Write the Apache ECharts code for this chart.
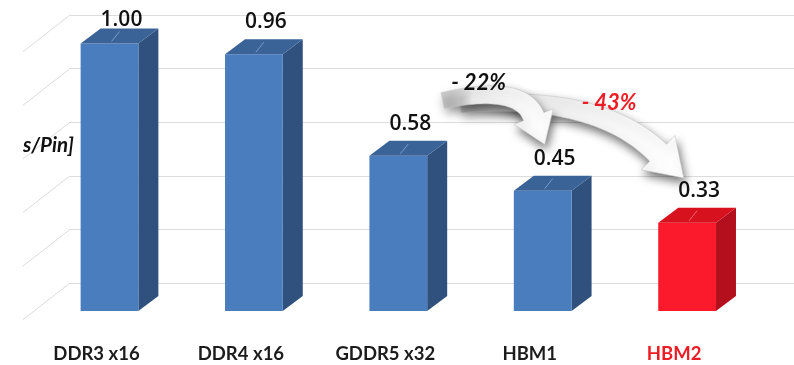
<!DOCTYPE html>
<html>
<head>
<meta charset="utf-8">
<script src="https://cdn.jsdelivr.net/npm/echarts@6/dist/echarts.min.js"></script>
<style>
  html, body { margin: 0; padding: 0; background: #ffffff; }
  #chart { width: 794px; height: 365px; }
</style>
</head>
<body>
<div id="chart"></div>
<script>
// Memory interfaces and their normalized values
const categories = ['DDR3 x16', 'DDR4 x16', 'GDDR5 x32', 'HBM1', 'HBM2'];
const values = [1.00, 0.96, 0.58, 0.45, 0.33];
const valueLabels = ['1.00', '0.96', '0.58', '0.45', '0.33'];
// Back-wall gridline values
const wallTicks = [0, 0.2, 0.4, 0.6, 0.8, 1.0];
// Reduction callouts: [target index, text]
const reductions = [[3, '- 22%'], [4, '- 43%']];
// Unit line of the axis title (the part inside the frame)
const unitText = 's/Pin]';

const FONT = 'Lato, "Open Sans", sans-serif';
const NUM_FONT = '"Open Sans", Lato, sans-serif';
const FRAME_LEFT = 23;             // left edge of the visible frame
const DX = 20, DY = -15;           // 3D depth offset of each column
const BLUE = { front: '#4a7dbd', side: '#30517d', top: '#3a6397', hi: 'rgba(170,200,240,0.55)' };
const RED  = { front: '#fb1a2b', side: '#b40f1d', top: '#d8111f', hi: 'rgba(255,170,170,0.55)' };
const barColors = categories.map((c, i) => i === categories.length - 1 ? RED : BLUE);

function renderColumn(params, api) {
  const i = api.value(0), v = api.value(1);
  const top = api.coord([i, v]);
  const base = api.coord([i, 0]);
  const w = api.size([1, 0])[0] * 0.4;
  const x0 = top[0] - w / 2, x1 = top[0] + w / 2;
  const yT = top[1], yB = base[1];
  const c = barColors[i];
  return {
    type: 'group',
    children: [
      { type: 'polygon', shape: { points: [[x1, yT], [x1 + DX, yT + DY], [x1 + DX, yB + DY], [x1, yB]] },
        style: { fill: c.side } },
      { type: 'rect', shape: { x: x0, y: yT, width: w, height: yB - yT },
        style: { fill: c.front } },
      { type: 'polygon', shape: { points: [[x0, yT], [x0 + DX, yT + DY], [x1 + DX, yT + DY], [x1, yT]] },
        style: { fill: c.top } },
      { type: 'line', shape: { x1: top[0] + 2, y1: yT - 2, x2: top[0] + 10, y2: yT + DY + 3 },
        style: { stroke: c.hi, lineWidth: 1 } },
      { type: 'text', z2: 10,
        style: { text: valueLabels[i], x: top[0] + 12, y: Math.max(yT + DY - 17, 20),
                 align: 'center', verticalAlign: 'middle',
                 font: '600 21px ' + NUM_FONT, fill: '#111111' } }
    ]
  };
}

// Receding gridlines on the left side wall, ending at the frame edge
function renderWallLine(params, api) {
  const p = api.coord([0, api.value(0)]);
  const run = p[0] - FRAME_LEFT;
  return {
    type: 'line',
    shape: { x1: p[0], y1: p[1], x2: FRAME_LEFT, y2: p[1] + run * 0.78 },
    style: { stroke: '#dcdcdc', lineWidth: 1 }
  };
}

const chart = echarts.init(document.getElementById('chart'), null, { renderer: 'canvas' });

chart.setOption({
  animation: false,
  backgroundColor: '#ffffff',
  grid: [
    { left: 37.3, right: 34.7, top: 43.5, bottom: 54 },
    { left: 70, right: 0, top: 15, bottom: 82 }
  ],
  xAxis: [
    {
      type: 'category', gridIndex: 0, data: categories,
      axisLine: { show: false }, axisTick: { show: false },
      axisLabel: {
        margin: 34, padding: [0, 26, 0, 0],
        fontFamily: FONT, fontWeight: 'bold', fontSize: 18.5, color: '#1c1c1c',
        formatter: (v) => v === 'HBM2' ? '{r|' + v + '}' : v,
        rich: { r: { color: '#ee1c25', fontFamily: FONT, fontWeight: 'bold', fontSize: 18.5 } }
      }
    },
    { type: 'value', gridIndex: 1, min: 0, max: 1, show: false }
  ],
  yAxis: [
    { type: 'value', gridIndex: 0, min: 0, max: 1, show: false },
    {
      type: 'value', gridIndex: 1, min: 0, max: 1, interval: 0.2,
      axisLine: { show: false }, axisTick: { show: false }, axisLabel: { show: false },
      splitLine: { show: true, lineStyle: { color: '#dcdcdc', width: 1 } }
    }
  ],
  series: [
    {
      type: 'custom', xAxisIndex: 1, yAxisIndex: 1, z: 1,
      data: wallTicks.map(t => [t]),
      renderItem: renderWallLine
    },
    {
      type: 'custom', xAxisIndex: 0, yAxisIndex: 0, z: 3,
      data: values.map((v, i) => [i, v]),
      renderItem: renderColumn
    }
  ]
});

// Curved callout arrow built along a quadratic curve with an arrow head
function arrowPoints(p0, p1, p2, headLen, w0, w1, hw) {
  const left = [], right = [];
  const N = 30;
  for (let k = 0; k <= N; k++) {
    const t = k / N, u = 1 - t;
    const x = u * u * p0[0] + 2 * u * t * p1[0] + t * t * p2[0];
    const y = u * u * p0[1] + 2 * u * t * p1[1] + t * t * p2[1];
    const dx = 2 * u * (p1[0] - p0[0]) + 2 * t * (p2[0] - p1[0]);
    const dy = 2 * u * (p1[1] - p0[1]) + 2 * t * (p2[1] - p1[1]);
    const len = Math.hypot(dx, dy) || 1;
    const nx = -dy / len, ny = dx / len;
    const h = w0 + (w1 - w0) * t;
    left.push([x + nx * h, y + ny * h]);
    right.push([x - nx * h, y - ny * h]);
  }
  const ex = p2[0] - p1[0], ey = p2[1] - p1[1];
  const el = Math.hypot(ex, ey);
  const dx = ex / el, dy = ey / el, nx = -dy, ny = dx;
  const tip = [p2[0] + dx * headLen, p2[1] + dy * headLen];
  return left.concat([[p2[0] + nx * hw, p2[1] + ny * hw], tip, [p2[0] - nx * hw, p2[1] - ny * hw]],
                     right.reverse());
}

function px(i) { return chart.convertToPixel({ seriesIndex: 1 }, [i, values[i]]); }
const t4 = px(3), t5 = px(4);

function arrowGraphic(points) {
  return {
    type: 'polygon', shape: { points: points },
    style: {
      fill: new echarts.graphic.LinearGradient(0, 0, 1, 0, [
        { offset: 0, color: 'rgba(160,160,160,0.5)' },
        { offset: 0.28, color: '#ebebeb' },
        { offset: 1, color: '#ffffff' }
      ]),
      stroke: 'rgba(195,195,195,0.9)', lineWidth: 0.6,
      shadowColor: 'rgba(0,0,0,0.55)', shadowBlur: 10, shadowOffsetX: 2, shadowOffsetY: 5
    }
  };
}

const arrowLong = arrowPoints(
  [t4[0] - 82, t4[1] - 86], [t5[0] - 90, t5[1] - 130], [t5[0] - 29, t5[1] - 70], 36, 8, 12, 24);
const arrowShort = arrowPoints(
  [t4[0] - 100, t4[1] - 90], [t4[0] - 22, t4[1] - 107], [t4[0] - 9, t4[1] - 74], 30, 8, 11, 21);

chart.setOption({
  graphic: [
    Object.assign(arrowGraphic(arrowLong), { z: 5 }),
    Object.assign(arrowGraphic(arrowShort), { z: 6 }),
    { type: 'text', z: 7, style: { text: reductions[0][1], x: t4[0] - 64, y: t4[1] - 108,
        align: 'center', verticalAlign: 'middle',
        font: 'italic bold 22px ' + FONT, fill: '#111111' } },
    { type: 'text', z: 7, style: { text: reductions[1][1], x: t5[0] - 78, y: t5[1] - 120,
        align: 'center', verticalAlign: 'middle',
        font: 'italic bold 22px ' + FONT, fill: '#ee1c25' } },
    { type: 'text', z: 7, style: { text: unitText, x: FRAME_LEFT, y: 145,
        align: 'left', verticalAlign: 'middle',
        font: 'italic bold 20.5px ' + FONT, fill: '#111111' } }
  ]
});
</script>
</body>
</html>
